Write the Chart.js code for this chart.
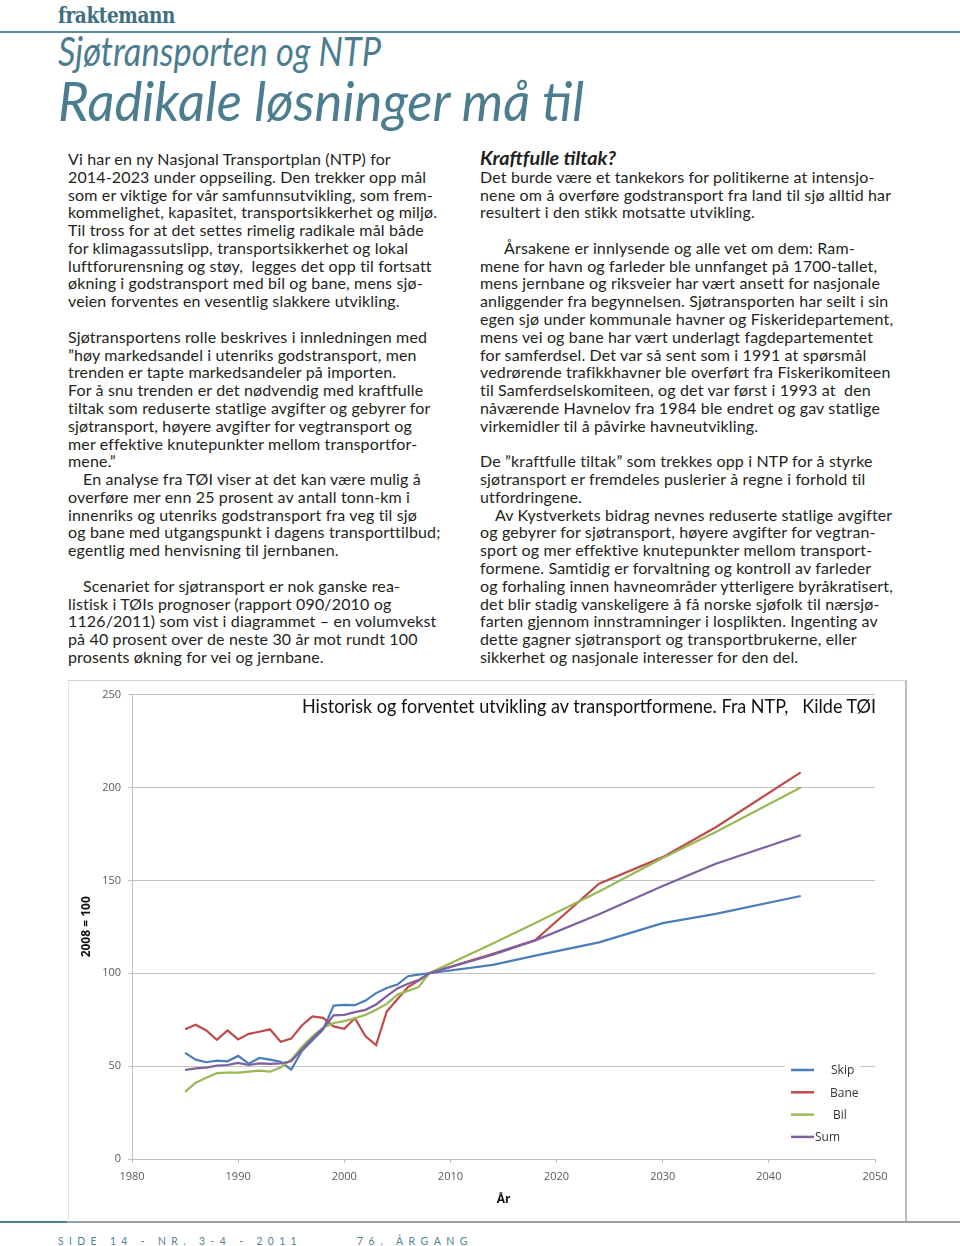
<!DOCTYPE html>
<html><head><meta charset="utf-8">
<script src="https://cdn.jsdelivr.net/npm/chart.js@4.4.1/dist/chart.umd.min.js"></script>
<style>
html,body{margin:0;padding:0;background:#fff;}
#page{position:relative;width:960px;height:1246px;overflow:hidden;background:#fff;font-family:Lato,'Open Sans',sans-serif;}
.abs{position:absolute;white-space:pre;transform-origin:left top;}
.col{position:absolute;font-size:16px;line-height:17.79px;color:#231f20;letter-spacing:0.15px;}
.col div{white-space:pre;height:17.79px;}
.ind{padding-left:15px;}
.indr{padding-left:24px;}
.head{font-weight:bold;font-style:italic;font-size:18px;display:inline-block;transform-origin:left center;letter-spacing:0;}
#chartwrap{position:absolute;left:68px;top:681px;width:837px;height:539px;}
</style></head>
<body>
<div id="page">
  <div class="abs" data-w="117" style="left:58px;top:1px;font-family:'DejaVu Serif';font-weight:bold;font-size:23px;color:#3f6f80;letter-spacing:-0.5px;">fraktemann</div>
  <div style="position:absolute;left:0;top:31px;width:960px;height:2px;background:#5b8a99;"></div>
  <div class="abs" data-w="323" style="left:58px;top:31px;font-style:italic;font-size:40px;line-height:40px;color:#4b7d8f;">Sjøtransporten og NTP</div>
  <div class="abs" data-w="526" style="left:58px;top:74px;font-style:italic;font-size:54px;line-height:54px;color:#4b7d8f;">Radikale løsninger må til</div>

  <div class="col" style="left:68px;top:150px;">
    <div>Vi har en ny Nasjonal Transportplan (NTP) for</div>
    <div>2014-2023 under oppseiling. Den trekker opp mål</div>
    <div>som er viktige for vår samfunnsutvikling, som frem-</div>
    <div>kommelighet, kapasitet, transportsikkerhet og miljø.</div>
    <div>Til tross for at det settes rimelig radikale mål både</div>
    <div>for klimagassutslipp, transportsikkerhet og lokal</div>
    <div>luftforurensning og støy,  legges det opp til fortsatt</div>
    <div>økning i godstransport med bil og bane, mens sjø-</div>
    <div>veien forventes en vesentlig slakkere utvikling.</div>
    <div> </div>
    <div>Sjøtransportens rolle beskrives i innledningen med</div>
    <div>”høy markedsandel i utenriks godstransport, men</div>
    <div>trenden er tapte markedsandeler på importen.</div>
    <div>For å snu trenden er det nødvendig med kraftfulle</div>
    <div>tiltak som reduserte statlige avgifter og gebyrer for</div>
    <div>sjøtransport, høyere avgifter for vegtransport og</div>
    <div>mer effektive knutepunkter mellom transportfor-</div>
    <div>mene.”</div>
    <div class="ind">En analyse fra TØI viser at det kan være mulig å</div>
    <div>overføre mer enn 25 prosent av antall tonn-km i</div>
    <div>innenriks og utenriks godstransport fra veg til sjø</div>
    <div>og bane med utgangspunkt i dagens transporttilbud;</div>
    <div>egentlig med henvisning til jernbanen.</div>
    <div> </div>
    <div class="ind">Scenariet for sjøtransport er nok ganske rea-</div>
    <div>listisk i TØIs prognoser (rapport 090/2010 og</div>
    <div>1126/2011) som vist i diagrammet – en volumvekst</div>
    <div>på 40 prosent over de neste 30 år mot rundt 100</div>
    <div>prosents økning for vei og jernbane.</div>
  </div>

  <div class="col" style="left:480px;top:150px;">
    <div><span class="head" data-w="136">Kraftfulle tiltak?</span></div>
    <div>Det burde være et tankekors for politikerne at intensjo-</div>
    <div>nene om å overføre godstransport fra land til sjø alltid har</div>
    <div>resultert i den stikk motsatte utvikling.</div>
    <div> </div>
    <div class="indr">Årsakene er innlysende og alle vet om dem: Ram-</div>
    <div>mene for havn og farleder ble unnfanget på 1700-tallet,</div>
    <div>mens jernbane og riksveier har vært ansett for nasjonale</div>
    <div>anliggender fra begynnelsen. Sjøtransporten har seilt i sin</div>
    <div>egen sjø under kommunale havner og Fiskeridepartement,</div>
    <div>mens vei og bane har vært underlagt fagdepartementet</div>
    <div>for samferdsel. Det var så sent som i 1991 at spørsmål</div>
    <div>vedrørende trafikkhavner ble overført fra Fiskerikomiteen</div>
    <div>til Samferdselskomiteen, og det var først i 1993 at  den</div>
    <div>nåværende Havnelov fra 1984 ble endret og gav statlige</div>
    <div>virkemidler til å påvirke havneutvikling.</div>
    <div> </div>
    <div>De ”kraftfulle tiltak” som trekkes opp i NTP for å styrke</div>
    <div>sjøtransport er fremdeles puslerier å regne i forhold til</div>
    <div>utfordringene.</div>
    <div class="ind">Av Kystverkets bidrag nevnes reduserte statlige avgifter</div>
    <div>og gebyrer for sjøtransport, høyere avgifter for vegtran-</div>
    <div>sport og mer effektive knutepunkter mellom transport-</div>
    <div>formene. Samtidig er forvaltning og kontroll av farleder</div>
    <div>og forhaling innen havneområder ytterligere byråkratisert,</div>
    <div>det blir stadig vanskeligere å få norske sjøfolk til nærsjø-</div>
    <div>farten gjennom innstramninger i losplikten. Ingenting av</div>
    <div>dette gagner sjøtransport og transportbrukerne, eller</div>
    <div>sikkerhet og nasjonale interesser for den del.</div>
  </div>

  <div style="position:absolute;left:68px;top:680px;width:836px;height:540px;border-top:1px solid #cfcfcf;border-right:2px solid #bdbdbd;border-left:1px solid #e4e4e4;"></div>
  <div id="chartwrap"><canvas id="c" width="837" height="539"></canvas></div>
  <div class="abs" data-w="574" style="left:302px;top:695px;font-size:19px;line-height:22px;color:#111;z-index:5;">Historisk og forventet utvikling av transportformene. Fra NTP,   Kilde TØI</div>

  <div style="position:absolute;left:0;top:1221px;width:67px;height:2px;background:#4f8293;"></div>
  <div style="position:absolute;left:67px;top:1221px;width:893px;height:2px;background:#98a2a6;"></div>
  <div class="abs" data-w="244" style="left:58px;top:1234px;font-size:11.5px;line-height:13px;color:#4f8293;letter-spacing:6px;">SIDE 14 - NR. 3-4 - 2011</div>
  <div class="abs" data-w="116" style="left:357px;top:1234px;font-size:11.5px;line-height:13px;color:#4f8293;letter-spacing:6px;">76. ÅRGANG</div>
</div>
<script>
// ---- data ----
const years = [1985,1986,1987,1988,1989,1990,1991,1992,1993,1994,1995,1996,1997,1998,1999,2000,2001,2002,2003,2004,2005,2006,2007,2008,2014,2018,2024,2030,2035,2043];
const skip = [57.1,53.5,52.1,53.0,52.6,55.5,51.3,54.4,53.5,52.4,48.1,58.1,63.9,69.6,82.6,83.0,82.8,85.3,89.3,92.1,93.9,98.4,99.3,100,104.5,109.5,116.6,127.0,132.0,141.6];
const bane = [69.8,72.3,69.2,64.2,69.2,64.4,67.4,68.5,69.8,63.1,64.8,71.9,76.7,76.0,71.4,70.1,75.8,66.0,61.3,79.4,86.0,92.5,96.0,100,110.5,117.9,148.2,162.5,178.6,208.1];
const bil = [36.1,41.1,43.8,46.2,46.5,46.5,47.0,47.6,47.0,49.2,53.5,60.3,66.0,70.7,73.2,74.2,75.8,77.6,80.3,83.5,88.5,90.5,92.5,100,116.0,127.0,144.0,162.0,176.0,200.0];
const sum = [47.9,48.8,49.2,50.3,50.6,51.7,50.6,51.5,51.2,51.5,52.6,58.9,64.8,70.3,77.3,77.6,79.1,80.3,83.2,87.7,91.8,94.3,96.3,100,110.0,117.7,131.8,147.0,158.9,174.3];
const seriesNames = ['Skip','Bane','Bil','Sum'];
const seriesColors = ['#4a7ebb','#be4b48','#98b954','#7d60a0'];
const xTicks = [1980,1990,2000,2010,2020,2030,2040,2050];
const yTicks = [0,50,100,150,200,250];
const yTitle = '2008 = 100';
const xTitle = 'År';

// fit text widths
document.querySelectorAll('[data-w]').forEach(el => {
  const w = parseFloat(el.dataset.w);
  const r = el.getBoundingClientRect().width;
  if (r > 0) el.style.transform = 'scaleX(' + (w / r) + ')';
});

const allVals = [skip, bane, bil, sum];
const tickFont = {family: "'Open Sans', 'Liberation Sans', sans-serif", size: 11};

const legendPlugin = {
  id: 'inlegend',
  afterDatasetsDraw(chart, args, opts) {
    const ctx = chart.ctx;
    ctx.save();
    ctx.fillStyle = '#ffffff';
    ctx.fillRect(opts.box[0], opts.box[1], opts.box[2], opts.box[3]);
    ctx.font = "12px 'Open Sans', 'Liberation Sans', sans-serif";
    ctx.textBaseline = 'middle';
    chart.data.datasets.forEach((ds, i) => {
      const y = opts.y0 + i * opts.dy;
      ctx.strokeStyle = ds.borderColor;
      ctx.lineWidth = 2.5;
      ctx.beginPath();
      ctx.moveTo(opts.lx0, y);
      ctx.lineTo(opts.lx1, y);
      ctx.stroke();
      ctx.fillStyle = '#333333';
      ctx.fillText(ds.label, opts.tx[i], y + 1);
    });
    ctx.restore();
  }
};

new Chart(document.getElementById('c'), {
  type: 'line',
  data: {
    datasets: seriesNames.map((name, i) => ({
      label: name,
      data: years.map((yr, j) => ({x: yr, y: allVals[i][j]})),
      borderColor: seriesColors[i],
      backgroundColor: seriesColors[i],
      borderWidth: 2.2,
      pointRadius: 0,
      tension: 0,
      fill: false,
      order: 4 - i
    }))
  },
  options: {
    responsive: false,
    animation: false,
    devicePixelRatio: 1,
    layout: {padding: {left: 0, top: 12, right: 30, bottom: 11}},
    plugins: {
      legend: {display: false},
      tooltip: {enabled: false},
      inlegend: {box: [717, 377, 75, 90], y0: 389, dy: 22.3, lx0: 723, lx1: 746, tx: [763, 762, 765, 747]}
    },
    scales: {
      x: {
        type: 'linear', min: 1980, max: 2050,
        afterBuildTicks: s => { s.ticks = xTicks.map(v => ({value: v})); },
        ticks: {callback: v => String(v), color: '#595959', font: tickFont, padding: 7, maxRotation: 0, autoSkip: false},
        grid: {drawOnChartArea: false, drawTicks: true, tickLength: 4, color: '#bfbfbf'},
        border: {display: true, color: '#bfbfbf'},
        title: {display: true, text: xTitle, color: '#111', font: {family: "'Open Sans', sans-serif", size: 12, weight: 'bold'}, padding: {top: 0, bottom: 2}},
        afterFit: s => { s.height = 50; }
      },
      y: {
        min: 0, max: 250,
        afterBuildTicks: s => { s.ticks = yTicks.map(v => ({value: v})); },
        ticks: {callback: v => String(v), color: '#595959', font: tickFont, padding: 7},
        grid: {color: '#c4c4c4', lineWidth: 1, drawTicks: true, tickLength: 4},
        border: {display: true, color: '#bfbfbf'},
        title: {display: true, text: yTitle, color: '#111', font: {family: "'Open Sans', sans-serif", size: 12, weight: 'bold'}, padding: {top: 11, bottom: 0}},
        afterFit: s => { s.width = 64; }
      }
    }
  },
  plugins: [legendPlugin]
});
</script>
</body></html>
